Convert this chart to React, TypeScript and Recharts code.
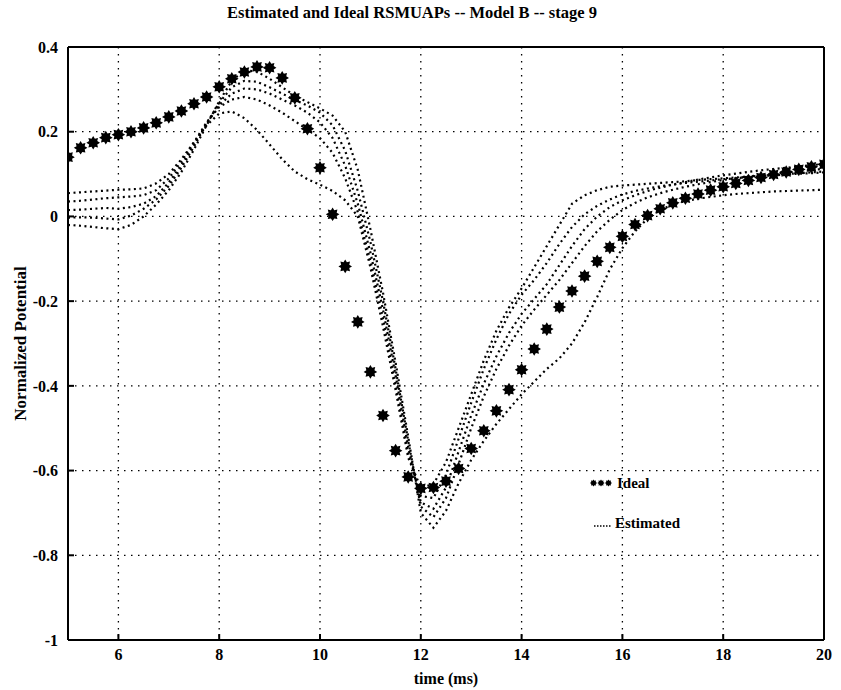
import { LineChart, Line, XAxis, YAxis, CartesianGrid, Label } from "recharts"

const FONT = '"Liberation Serif", "Times New Roman", serif'

// sample times (ms), 0.25 ms apart
const timeMs = [
  5, 5.25, 5.5, 5.75, 6, 6.25, 6.5, 6.75, 7, 7.25, 7.5, 7.75,
  8, 8.25, 8.5, 8.75, 9, 9.25, 9.5, 9.75, 10, 10.25, 10.5, 10.75,
  11, 11.25, 11.5, 11.75, 12, 12.25, 12.5, 12.75, 13, 13.25, 13.5, 13.75,
  14, 14.25, 14.5, 14.75, 15, 15.25, 15.5, 15.75, 16, 16.25, 16.5, 16.75,
  17, 17.25, 17.5, 17.75, 18, 18.25, 18.5, 18.75, 19, 19.25, 19.5, 19.75,
  20,
]

const ideal = [
  0.14, 0.162, 0.174, 0.186, 0.193, 0.2, 0.209, 0.221, 0.235, 0.249, 0.266, 0.282,
  0.306, 0.325, 0.341, 0.353, 0.351, 0.327, 0.28, 0.207, 0.115, 0.005, -0.118, -0.249,
  -0.367, -0.47, -0.553, -0.615, -0.642, -0.64, -0.625, -0.595, -0.548, -0.506, -0.459, -0.409,
  -0.362, -0.313, -0.266, -0.214, -0.176, -0.141, -0.106, -0.073, -0.047, -0.019, 0.002, 0.018,
  0.032, 0.043, 0.053, 0.062, 0.07, 0.078, 0.085, 0.092, 0.099, 0.105, 0.111, 0.117,
  0.123,
]

const est1 = [
  0.055, 0.057, 0.059, 0.061, 0.063, 0.064, 0.066, 0.078, 0.1, 0.135, 0.175, 0.215,
  0.243, 0.248, 0.232, 0.204, 0.17, 0.135, 0.106, 0.088, 0.075, 0.06, 0.038, 0.0,
  -0.12, -0.26, -0.41, -0.57, -0.64, -0.632, -0.58, -0.5, -0.42, -0.34, -0.27, -0.215,
  -0.17, -0.12, -0.07, -0.02, 0.03, 0.05, 0.062, 0.07, 0.073, 0.075, 0.077, 0.079,
  0.081, 0.083, 0.086, 0.088, 0.09, 0.092, 0.094, 0.096, 0.098, 0.1, 0.102, 0.104,
  0.106,
]

const est2 = [
  0.035, 0.037, 0.04, 0.043, 0.045, 0.047, 0.05, 0.062, 0.09, 0.13, 0.175, 0.222,
  0.258, 0.276, 0.282, 0.276, 0.262, 0.245, 0.225, 0.205, 0.185, 0.15, 0.09, 0.01,
  -0.105, -0.24, -0.395, -0.56, -0.66, -0.665, -0.61, -0.525, -0.44, -0.36, -0.29, -0.23,
  -0.185, -0.15, -0.11, -0.065, -0.025, 0.005, 0.025, 0.04, 0.052, 0.06, 0.066, 0.071,
  0.075, 0.079, 0.082, 0.085, 0.088, 0.09, 0.093, 0.095, 0.097, 0.099, 0.101, 0.102,
  0.104,
]

const est3 = [
  0.015, 0.016, 0.018, 0.02, 0.018, 0.022, 0.03, 0.048, 0.08, 0.122, 0.17, 0.22,
  0.262, 0.29, 0.302, 0.3, 0.29, 0.276, 0.262, 0.245, 0.222, 0.185, 0.12, 0.03,
  -0.085, -0.22, -0.375, -0.545, -0.675, -0.69, -0.64, -0.555, -0.47, -0.395, -0.33, -0.275,
  -0.23, -0.195, -0.16, -0.115, -0.07, -0.03, 0.0, 0.022, 0.038, 0.05, 0.06, 0.068,
  0.075, 0.081, 0.087, 0.092, 0.097, 0.101, 0.105, 0.109, 0.112, 0.115, 0.118, 0.121,
  0.124,
]

const est4 = [
  -0.003, -0.002, -0.003, -0.005, -0.007, 0.002, 0.018, 0.04, 0.072, 0.115, 0.165, 0.22,
  0.268, 0.305, 0.32, 0.318, 0.305, 0.29, 0.275, 0.262, 0.245, 0.215, 0.155, 0.06,
  -0.06, -0.2, -0.36, -0.53, -0.685, -0.71, -0.665, -0.585, -0.5, -0.425, -0.36, -0.305,
  -0.258, -0.22, -0.185, -0.15, -0.11, -0.07, -0.035, -0.008, 0.015, 0.032, 0.045, 0.055,
  0.063, 0.07, 0.076, 0.081, 0.086, 0.09, 0.094, 0.098, 0.101, 0.104, 0.107, 0.11,
  0.112,
]

const est5 = [
  -0.02, -0.022, -0.025, -0.028, -0.03, -0.02, 0.0, 0.028, 0.062, 0.105, 0.158, 0.215,
  0.272, 0.32, 0.345, 0.342, 0.325, 0.305, 0.285, 0.27, 0.255, 0.238, 0.2, 0.11,
  -0.03, -0.18, -0.345, -0.52, -0.7, -0.735, -0.695, -0.63, -0.575, -0.53, -0.49, -0.455,
  -0.42, -0.39, -0.36, -0.335, -0.3, -0.25, -0.19, -0.125, -0.075, -0.035, -0.005, 0.015,
  0.028, 0.036, 0.042, 0.046, 0.05, 0.053, 0.055, 0.057, 0.059, 0.06, 0.061, 0.062,
  0.063,
]

const estimated = [est1, est2, est3, est4, est5]

const xTicks = [6, 8, 10, 12, 14, 16, 18, 20]
const yTicks = [-1, -0.8, -0.6, -0.4, -0.2, 0, 0.2, 0.4]

const rows = timeMs.map((t, i) => {
  const row: Record<string, number> = { t, ideal: ideal[i] }
  estimated.forEach((s, k) => (row["est" + (k + 1)] = s[i]))
  return row
})

// matlab-style '*' marker, filled
function starPoints(cx: number, cy: number, ro: number, ri: number) {
  const pts: string[] = []
  for (let k = 0; k < 16; k++) {
    const r = k % 2 === 0 ? ro : ri
    const a = (Math.PI / 8) * k
    pts.push(`${cx + r * Math.cos(a)},${cy + r * Math.sin(a)}`)
  }
  return pts.join(" ")
}

function StarDot(props: any) {
  const { cx, cy, index } = props
  if (cx == null || cy == null) return null
  return <polygon key={index} points={starPoints(cx, cy, 6.8, 4.4)} fill="#000" />
}

const tickStyle = { fill: "#000", fontSize: 16, fontWeight: "bold", fontFamily: FONT }
const axisStroke = { stroke: "#000", strokeWidth: 2 }

export default function App() {
  return (
    <div style={{ position: "absolute", left: 0, top: 0, width: 841, height: 690, background: "#fff", fontFamily: FONT }}>
      <div
        style={{
          position: "absolute",
          left: 212,
          width: 400,
          top: 3,
          textAlign: "center",
          fontSize: 16.5,
          fontWeight: "bold",
          whiteSpace: "nowrap",
        }}
      >
        Estimated and Ideal RSMUAPs -- Model B -- stage 9
      </div>

      <LineChart width={841} height={690} data={rows} margin={{ top: 46, right: 16, bottom: 0, left: 0 }}>
        <CartesianGrid
          xAxisId="b"
          yAxisId="l"
          stroke="#000"
          strokeWidth={1.3}
          strokeDasharray="1.5 5.5"
        />
        <XAxis
          xAxisId="b"
          dataKey="t"
          type="number"
          domain={[5, 20]}
          ticks={xTicks}
          height={50}
          axisLine={axisStroke}
          tickLine={axisStroke}
          tickSize={-6}
          tickMargin={15}
          tick={tickStyle}
          allowDataOverflow
        >
          <Label
            value="time (ms)"
            position="insideBottom"
            offset={6}
            style={{ fill: "#000", fontSize: 16, fontWeight: "bold", fontFamily: FONT }}
          />
        </XAxis>
        <XAxis
          xAxisId="top"
          orientation="top"
          dataKey="t"
          type="number"
          domain={[5, 20]}
          ticks={xTicks}
          height={1}
          axisLine={axisStroke}
          tickLine={axisStroke}
          tickSize={-6}
          tick={false}
        />
        <YAxis
          yAxisId="l"
          type="number"
          domain={[-1, 0.4]}
          ticks={yTicks}
          width={68}
          axisLine={axisStroke}
          tickLine={axisStroke}
          tickSize={-6}
          tickMargin={16}
          tick={tickStyle}
          tickFormatter={(v: number) => String(v)}
          allowDataOverflow
        >
          <Label
            value="Normalized Potential"
            angle={-90}
            position="insideLeft"
            offset={20}
            style={{ fill: "#000", fontSize: 17, fontWeight: "bold", fontFamily: FONT, textAnchor: "middle" }}
          />
        </YAxis>
        <YAxis
          yAxisId="r"
          orientation="right"
          type="number"
          domain={[-1, 0.4]}
          ticks={yTicks}
          width={1}
          axisLine={axisStroke}
          tickLine={axisStroke}
          tickSize={-6}
          tick={false}
        />

        {estimated.map((_, k) => (
          <Line
            key={k}
            xAxisId="b"
            yAxisId="l"
            dataKey={"est" + (k + 1)}
            type="linear"
            stroke="#000"
            strokeWidth={2.2}
            strokeDasharray="2 3.5"
            dot={false}
            activeDot={false}
            isAnimationActive={false}
          />
        ))}
        <Line
          xAxisId="b"
          yAxisId="l"
          dataKey="ideal"
          stroke="none"
          dot={StarDot}
          activeDot={false}
          isAnimationActive={false}
        />
      </LineChart>

      <div style={{ position: "absolute", left: 590, top: 474, height: 18, display: "flex", alignItems: "center", fontSize: 15, fontWeight: "bold" }}>
        <svg width={22} height={10} style={{ marginRight: 5 }}>
          <polygon points={starPoints(3.5, 5, 3.6, 2.4)} fill="#000" />
          <polygon points={starPoints(11, 5, 3.6, 2.4)} fill="#000" />
          <polygon points={starPoints(18.5, 5, 3.6, 2.4)} fill="#000" />
        </svg>
        Ideal
      </div>
      <div style={{ position: "absolute", left: 594, top: 514, height: 18, display: "flex", alignItems: "center", fontSize: 15, fontWeight: "bold" }}>
        <svg width={18} height={10} style={{ marginRight: 3 }}>
          <line x1={0} y1={8} x2={18} y2={8} stroke="#000" strokeWidth={1.5} strokeDasharray="1.5 1.5" />
        </svg>
        Estimated
      </div>
    </div>
  )
}
